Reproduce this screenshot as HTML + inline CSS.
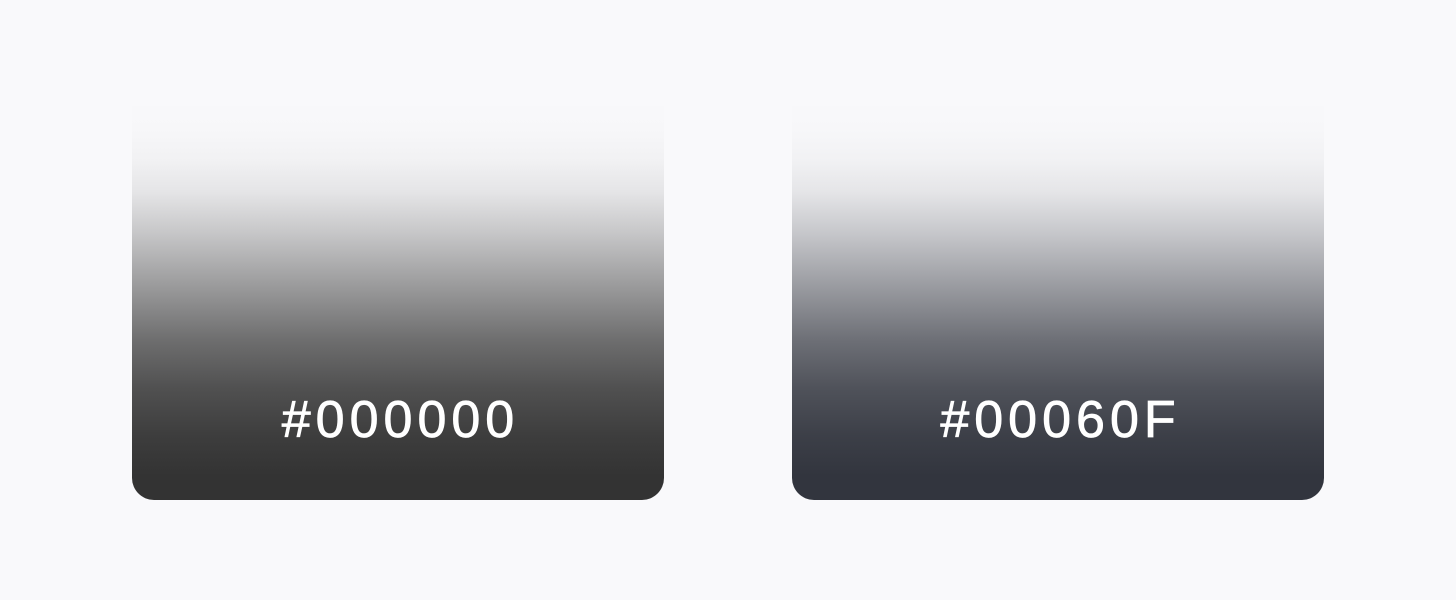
<!DOCTYPE html>
<html><head><meta charset="utf-8"><style>
html,body{margin:0;padding:0;width:1456px;height:600px;background:#f9f9fb;overflow:hidden;font-family:"Liberation Sans",sans-serif}
.card{position:absolute;top:100px;width:532px;height:400px;border-radius:0 0 22px 22px}
.c1{left:132px;background:linear-gradient(to bottom,rgba(51,51,51,0) 0%,rgba(51,51,51,0.01) 8%,rgba(51,51,51,0.04) 15%,rgba(51,51,51,0.1) 23%,rgba(51,51,51,0.25) 33%,rgba(51,51,51,0.5) 48%,rgba(51,51,51,0.7) 60%,rgba(51,51,51,0.85) 72%,rgba(51,51,51,0.95) 84%,rgba(51,51,51,1) 94%)}
.c2{left:792px;background:linear-gradient(to bottom,rgba(50,53,62,0) 0%,rgba(50,53,62,0.01) 8%,rgba(50,53,62,0.04) 15%,rgba(50,53,62,0.1) 23%,rgba(50,53,62,0.25) 33%,rgba(50,53,62,0.5) 48%,rgba(50,53,62,0.7) 60%,rgba(50,53,62,0.85) 72%,rgba(50,53,62,0.95) 84%,rgba(50,53,62,1) 94%)}
.lbl{position:absolute;left:0;right:0;top:290px;text-align:center;color:#fff;font-size:52px;line-height:60px;letter-spacing:5px;padding-left:5px;-webkit-text-stroke:0.8px #fff}
</style></head><body>
<div class="card c1"><div class="lbl">#000000</div></div>
<div class="card c2"><div class="lbl">#00060F</div></div>
</body></html>
